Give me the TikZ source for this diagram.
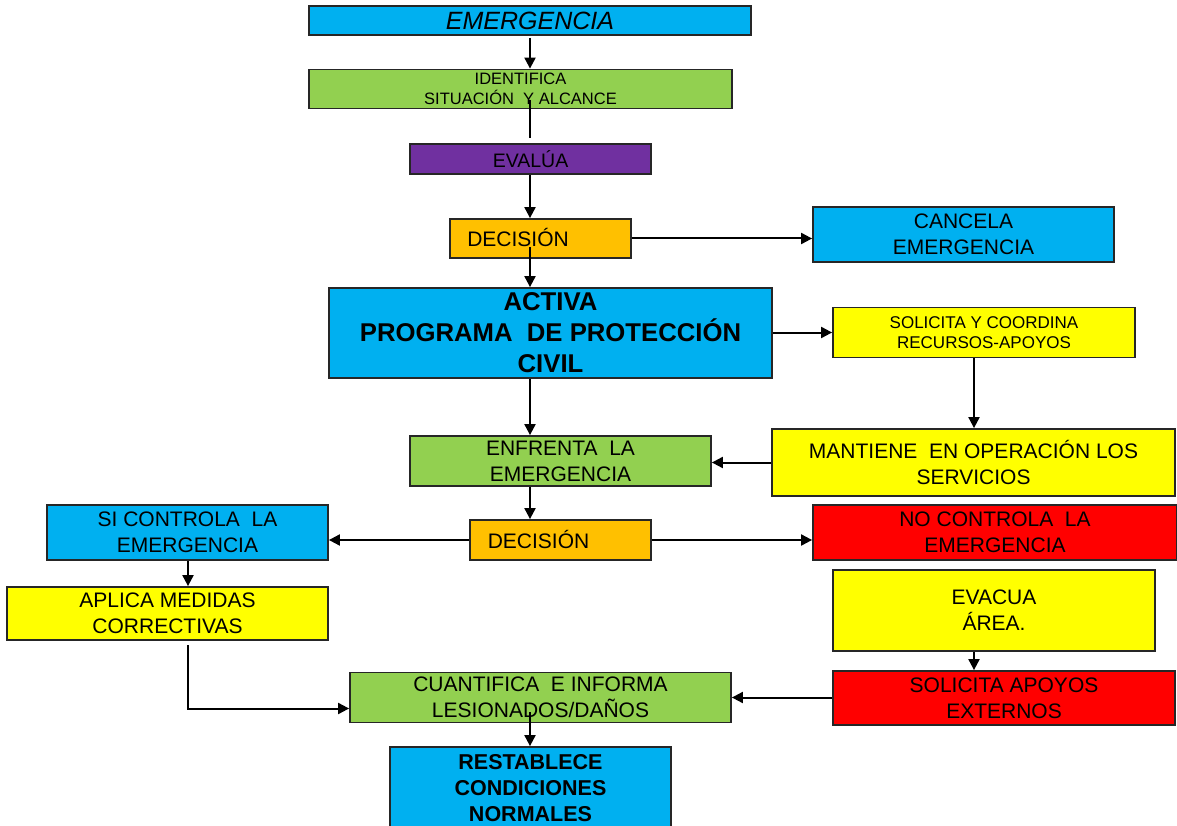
\documentclass[tikz,border=0pt]{standalone}
\usepackage{fontspec}
\setmainfont{Liberation Sans}
\usetikzlibrary{arrows.meta}
\definecolor{cBlue}{HTML}{00B0F0}
\definecolor{cGreen}{HTML}{92D050}
\definecolor{cPurple}{HTML}{7030A0}
\definecolor{cOrange}{HTML}{FFC000}
\definecolor{cYellow}{HTML}{FFFF00}
\definecolor{cRed}{HTML}{FF0000}
\tikzset{
  box/.style={draw=black!85, line width=1.8pt, inner sep=0pt, align=center, text=black},
  txt/.style={inner sep=0pt, text=black},
  arr/.style={line width=2pt, -{Triangle[length=11pt,width=11pt]}},
  ln/.style={line width=2pt},
  f21/.style={font=\fontsize{21}{26}\selectfont}
}
\begin{document}
\begin{tikzpicture}[x=1pt,y=-1pt]
\clip (0,0) rectangle (1177,826);
\fill[white] (0,0) rectangle (1177,826);

\node[box, fill=cBlue, minimum width=442pt, minimum height=29pt, font=\fontsize{25}{30}\selectfont\itshape] (emerg) at (530,20.5) {EMERGENCIA};
\node[box, fill=cGreen, minimum width=423pt, minimum height=39pt, font=\fontsize{16.5}{20}\selectfont] (ident) at (520.5,89) {IDENTIFICA\\SITUACIÓN\ \ Y ALCANCE};
\node[box, fill=cPurple, minimum width=241pt, minimum height=30pt, font=\fontsize{19.5}{24}\selectfont] (eval) at (530.5,159) {EVALÚA};
\node[box, fill=cOrange, minimum width=181pt, minimum height=39pt] (dec1) at (540.5,238.5) {};
\node[txt, f21, anchor=base] (dec1t) at (518,246.5) {DECISIÓN};
\node[box, fill=cBlue, minimum width=301pt, minimum height=55pt, f21] (canc) at (963.5,234.5) {CANCELA\\EMERGENCIA};
\node[box, fill=cBlue, minimum width=443pt, minimum height=90pt, font=\fontsize{25.7}{31}\selectfont\bfseries] (act) at (550.5,333) {ACTIVA\\PROGRAMA\ \ DE PROTECCIÓN\\CIVIL};
\node[box, fill=cYellow, minimum width=302pt, minimum height=50pt, font=\fontsize{17}{20}\selectfont] (sol) at (984,332.5) {SOLICITA Y COORDINA\\RECURSOS-APOYOS};
\node[box, fill=cGreen, minimum width=301pt, minimum height=50pt, f21] (enf) at (560.5,461) {ENFRENTA\ \ LA\\EMERGENCIA};
\node[box, fill=cYellow, minimum width=403pt, minimum height=67pt, f21] (mant) at (973.5,462.5) {MANTIENE\ \ EN OPERACIÓN LOS\\SERVICIOS};
\node[box, fill=cOrange, minimum width=181pt, minimum height=40pt] (dec2) at (560.5,540) {};
\node[txt, f21, anchor=base] (dec2t) at (538.5,548) {DECISIÓN};
\node[box, fill=cBlue, minimum width=281pt, minimum height=55pt, f21] (sic) at (187.5,532.5) {SI CONTROLA\ \ LA\\EMERGENCIA};
\node[box, fill=cRed, minimum width=364pt, minimum height=55pt, f21] (noc) at (995,532.5) {NO CONTROLA\ \ LA\\EMERGENCIA};
\node[box, fill=cYellow, minimum width=321pt, minimum height=53pt, f21] (apl) at (167.5,613.5) {APLICA MEDIDAS\\CORRECTIVAS};
\node[box, fill=cYellow, minimum width=322pt, minimum height=81pt, f21] (evac) at (994,610.5) {EVACUA\\ÁREA.};
\node[box, fill=cRed, minimum width=342pt, minimum height=54pt, f21] (solapo) at (1004,698) {SOLICITA APOYOS\\EXTERNOS};
\node[box, fill=cGreen, minimum width=381pt, minimum height=50pt, f21] (cuan) at (540.5,697.5) {CUANTIFICA\ \ E INFORMA\\LESIONADOS/DAÑOS};
\node[box, fill=cBlue, minimum width=281pt, minimum height=82pt, font=\fontsize{21.5}{26}\selectfont\bfseries] (rest) at (530.5,788) {RESTABLECE\\CONDICIONES\\NORMALES};

% connectors
\coordinate (ax) at (530,0);
\draw[arr] ([yshift=-2pt]emerg.south -| ax) -- (ax |- ident.north);
\coordinate (i1) at (530,100);
\draw[ln] (i1) -- ([yshift=5pt]eval.north -| ax);
\draw[arr] (eval.south -| ax) -- (ax |- dec1.north);
\coordinate (d1) at (530,247);
\draw[arr] (d1) -- (d1 |- act.north);
\draw[arr] (dec1.east) -- (dec1.east -| canc.west);
\draw[arr] (act.east |- sol.west) -- (sol.west);
\coordinate (rx) at (974,0);
\draw[arr] (rx |- sol.south) -- (rx |- mant.north);
\draw[arr] (ax |- act.south) -- (ax |- enf.north);
\draw[arr] (mant.west) -- (mant.west -| enf.east);
\draw[arr] (ax |- enf.south) -- (ax |- dec2.north);
\draw[arr] (dec2.west) -- (dec2.west -| sic.east);
\draw[arr] (dec2.east) -- (dec2.east -| noc.west);
\coordinate (lx) at (188,0);
\draw[arr] (lx |- sic.south) -- (lx |- apl.north);
\coordinate (a1) at (188,645);
\coordinate (cw) at ([yshift=-11pt]cuan.west);
\draw[arr] (a1) |- (cw);
\draw[arr] (rx |- evac.south) -- (rx |- solapo.north);
\draw[arr] (solapo.west |- cuan.east) -- (cuan.east);
\coordinate (c1) at (530,712);
\draw[arr] (c1) -- (c1 |- rest.north);
\end{tikzpicture}
\end{document}
